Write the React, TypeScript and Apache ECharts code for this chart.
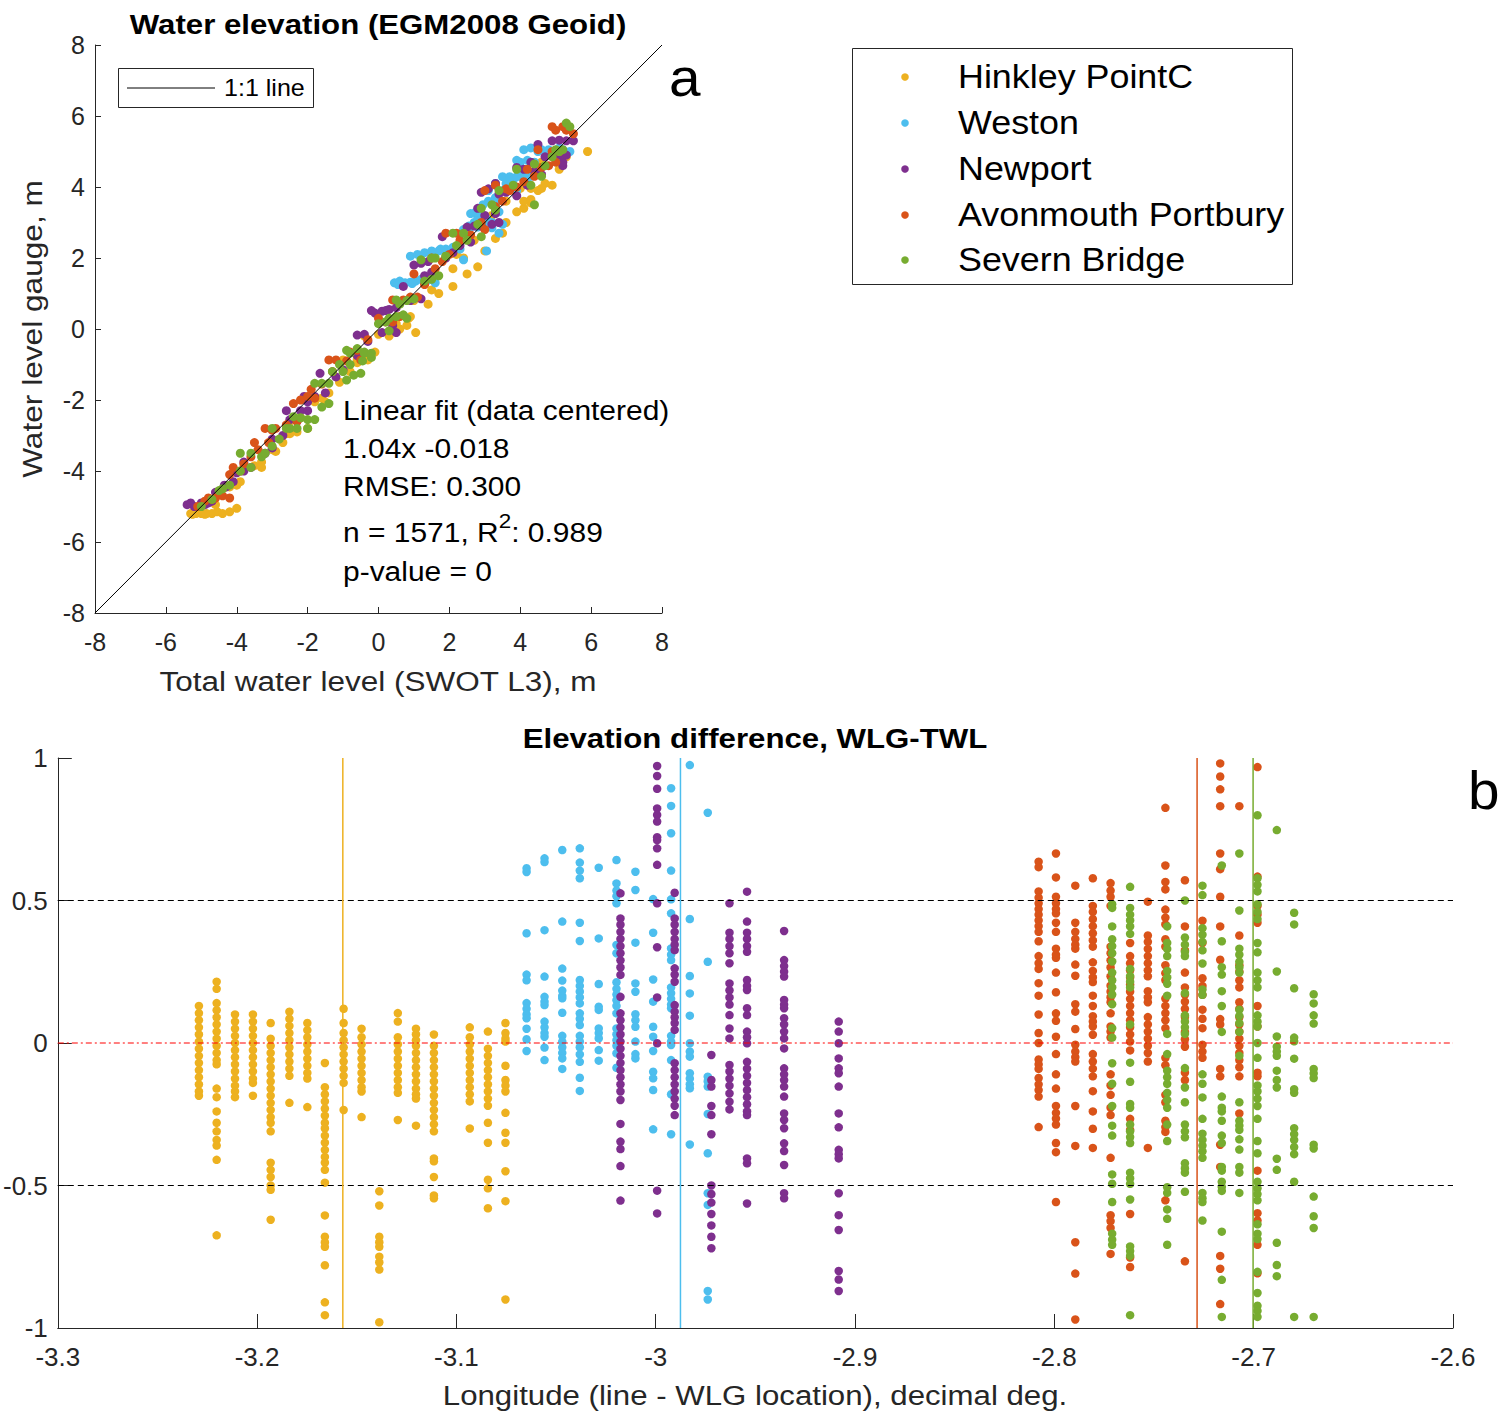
import React, { useEffect, useRef } from "react";
import * as echarts from "echarts";

const stationNames = ["Hinkley PointC", "Weston", "Newport", "Avonmouth Portbury", "Severn Bridge"];
const stationColors = ["#EDB120", "#4DBEEE", "#7E2F8E", "#D95319", "#77AC30"];

// Panel a: [Total water level (SWOT L3), Water level gauge]
const hinkleyA: number[][] = [
  [-5.3, -5.2], [-5.15, -5.2], [-5.0, -5.2], [-4.85, -5.2], [-4.7, -5.2], [-4.55, -5.15], [-4.0, -5.05], [-4.6, -4.95],
  [-4.3, -4.45], [-4.1, -4.35], [-3.9, -4.3], [-3.5, -3.85], [-3.3, -3.75], [-2.9, -3.45], [-2.7, -3.2], [-2.5, -2.95],
  [-2.3, -2.9], [-2.5, -2.6], [-2.2, -2.5], [-1.8, -2.05], [-1.6, -1.95], [-1.4, -1.8], [-1.1, -1.5], [-0.8, -1.2],
  [-0.6, -0.95], [-0.4, -0.75], [-0.1, -0.65], [0.3, -0.2], [0.6, 0.0], [0.8, 0.1], [1.05, -0.1], [0.9, 0.35],
  [1.4, 0.7], [1.7, 1.0], [2.1, 1.2], [2.5, 1.55], [2.8, 1.75], [3.0, 2.2], [3.3, 2.55], [3.5, 2.7], [3.6, 3.0],
  [3.9, 3.3], [4.1, 3.4], [4.3, 3.55], [4.5, 3.9], [4.7, 4.1], [4.9, 4.05], [5.1, 4.5], [5.3, 4.85], [5.9, 5.0],
  [4.6, 4.7], [3.2, 3.2], [2.2, 2.1],
  [-5.25, -5.22], [-4.9, -5.22], [-4.4, -5.2], [-4.2, -5.15], [-4.2, -4.45], [-4.0, -4.4], [-3.3, -3.9], [-3.0, -3.4],
  [-2.6, -2.95], [-2.0, -2.8], [-1.5, -2.05], [-1.0, -0.87], [-0.6, -0.85], [-0.3, -0.87], [-0.4, -0.2], [0.0, -0.15],
  [0.5, 0.15], [0.85, 0.3], [1.0, 0.8], [1.5, 1.1], [2.1, 1.7], [2.4, 2.0], [2.7, 2.5], [3.0, 2.9], [3.6, 3.6],
  [4.0, 3.96], [4.3, 3.96], [4.6, 3.96], [4.1, 3.6], [4.3, 3.65], [5.0, 4.9],
];
const westonA: number[][] = [
  [0.45, 1.3], [0.6, 1.35], [0.75, 1.3], [0.9, 1.32], [1.05, 1.35], [1.2, 1.4], [1.4, 1.38], [1.6, 1.3], [0.9, 2.05],
  [1.1, 2.1], [1.3, 2.15], [1.5, 2.2], [1.7, 2.2], [1.9, 2.25], [2.1, 2.3], [2.3, 2.25], [2.4, 1.95], [2.4, 2.8],
  [2.55, 2.9], [2.7, 3.0], [2.8, 3.15], [2.9, 3.25], [3.05, 3.1], [3.2, 3.0], [3.05, 2.2], [3.4, 2.7], [3.5, 2.95],
  [2.95, 3.5], [3.1, 3.6], [3.3, 3.7], [3.5, 3.9], [3.6, 4.1], [3.8, 4.2], [4.0, 4.3], [4.2, 4.25], [4.4, 4.35],
  [4.0, 4.7], [4.2, 4.75], [4.4, 4.7], [3.9, 4.75], [4.1, 5.05], [4.3, 5.1], [4.5, 5.0], [4.8, 5.05], [5.0, 5.0],
  [5.2, 5.05], [5.4, 5.0], [3.3, 4.1],
  [1.75, 2.25], [2.0, 2.2], [2.6, 2.88], [2.8, 2.87], [3.0, 2.9], [3.2, 2.85], [2.6, 3.25], [2.75, 3.3], [2.9, 3.25],
  [3.3, 3.5], [3.4, 3.3], [3.1, 3.9], [3.5, 4.29], [3.7, 4.29], [3.9, 4.29], [4.1, 4.29], [4.3, 4.3], [4.6, 5.05],
  [4.7, 5.0], [5.1, 5.1], [3.7, 3.95], [3.9, 3.9], [0.55, 1.25], [0.95, 1.28], [1.3, 1.3],
];
const newportA: number[][] = [
  [-5.4, -4.95], [-5.2, -5.0], [-4.9, -4.95], [-4.7, -4.85], [-4.6, -4.6], [-4.35, -4.4], [-4.1, -4.3], [-3.8, -3.75],
  [-3.6, -3.9], [-3.2, -3.5], [-3.0, -3.35], [-2.7, -3.0], [-2.5, -2.55], [-2.3, -2.6], [-2.0, -2.05], [-1.8, -1.9],
  [-1.5, -1.8], [-1.2, -1.35], [-1.0, -1.15], [-0.6, -0.75], [-0.3, -0.35], [0.1, -0.1], [0.4, 0.1], [-0.1, 0.45],
  [0.1, 0.5], [0.3, 0.55], [0.5, 0.6], [0.5, -0.1], [0.9, 0.8], [1.2, 0.85], [0.7, 1.2], [1.3, 1.5], [1.5, 1.6],
  [1.9, 2.0], [2.1, 2.15], [2.3, 2.35], [1.8, 2.6], [2.6, 2.45], [2.7, 2.9], [3.0, 3.2], [3.2, 2.95], [3.3, 3.25],
  [2.9, 3.85], [3.3, 4.1], [3.6, 3.85], [3.9, 3.75], [4.2, 4.05], [4.1, 4.5], [4.4, 4.45], [4.6, 4.35], [4.7, 4.85],
  [4.9, 4.9], [5.1, 4.9], [5.3, 4.9], [5.2, 4.6], [4.5, 5.2],
  [-5.3, -4.9], [-5.0, -4.9], [-4.8, -4.9], [-4.3, -4.45], [-4.0, -4.05], [-3.8, -4.0], [-3.0, -3.1], [-2.6, -2.3],
  [-2.2, -2.3], [-2.0, -2.3], [-2.1, -1.9], [-1.65, -1.25], [-0.6, -0.17], [-0.4, -0.15], [-0.2, 0.52], [0.2, 0.52],
  [1.0, 1.8], [1.2, 1.85], [1.4, 1.9], [2.5, 2.87], [2.9, 2.9], [3.4, 3.0], [2.8, 3.4], [3.1, 3.95], [3.4, 3.8],
  [3.9, 4.55], [4.3, 4.7], [4.9, 5.3], [5.1, 5.32], [5.3, 5.3], [5.5, 5.3], [5.2, 4.7],
];
const avonmouthA: number[][] = [
  [-5.1, -5.0], [-4.9, -4.85], [-4.7, -4.8], [-4.4, -4.7], [-4.2, -4.1], [-3.9, -4.0], [-3.6, -3.6], [-3.4, -3.4],
  [-3.1, -3.2], [-2.9, -2.8], [-2.6, -2.7], [-2.3, -2.6], [-2.4, -2.1], [-2.2, -2.0], [-1.9, -1.7], [-1.6, -1.55],
  [-1.3, -1.2], [-0.8, -0.65], [-0.6, -0.6], [-0.3, -0.3], [0.2, 0.2], [0.4, 0.2], [0.6, 0.35], [0.9, 0.9], [1.1, 0.9],
  [1.3, 1.25], [1.0, 1.55], [1.6, 1.7], [1.8, 1.9], [2.0, 2.1], [2.3, 2.5], [2.6, 2.65], [2.9, 3.0], [3.0, 2.8],
  [3.3, 3.45], [3.5, 3.6], [3.7, 3.9], [3.9, 4.0], [4.1, 4.15], [4.4, 4.3], [4.6, 4.55], [4.8, 4.6], [5.0, 4.7],
  [4.9, 5.0], [5.1, 5.0], [5.0, 5.6], [5.3, 5.6], [5.5, 5.5],
  [-4.8, -4.76], [-4.6, -4.76], [-4.2, -4.76], [-4.1, -3.9], [-3.8, -3.8], [-3.5, -3.2], [-3.2, -2.8], [-3.0, -2.85],
  [-2.0, -1.9], [-1.8, -1.95], [-1.4, -0.87], [-1.2, -0.87], [-0.9, -0.9], [-0.5, -0.87], [0.0, 0.3], [0.4, 0.82],
  [0.7, 0.82], [1.5, 2.0], [1.9, 2.7], [2.2, 2.7], [3.0, 3.9], [3.3, 4.05], [3.6, 3.95], [4.5, 5.05], [4.9, 5.7],
  [5.2, 5.7], [4.2, 4.5],
];
const severnA: number[][] = [
  [-5.0, -5.0], [-4.7, -4.8], [-4.4, -4.5], [-4.2, -4.4], [-3.9, -4.0], [-3.6, -3.9], [-3.3, -3.6], [-3.0, -3.3],
  [-2.8, -3.1], [-2.5, -2.8], [-2.2, -2.5], [-2.0, -2.55], [-1.8, -2.55], [-1.6, -2.2], [-1.4, -2.1], [-1.0, -1.2],
  [-0.8, -1.0], [-0.7, -1.3], [-0.5, -1.25], [-0.45, -0.9], [-0.4, -0.65], [-0.2, -0.8], [-0.9, -0.6], [-0.6, -0.55],
  [0.3, 0.3], [0.5, 0.35], [0.7, 0.4], [0.3, -0.05], [0.6, 0.7], [0.8, 0.8], [1.0, 0.85], [1.3, 1.35], [1.5, 1.4],
  [1.7, 1.5], [1.6, 2.0], [1.9, 2.05], [2.2, 2.35], [2.5, 2.5], [2.9, 2.6], [2.8, 2.95], [3.2, 3.5], [3.4, 3.9],
  [3.8, 4.05], [4.3, 4.05], [4.4, 3.5], [4.6, 4.3], [4.9, 4.85], [5.1, 5.0], [5.3, 5.8], [5.4, 5.7],
  [-4.5, -4.55], [-3.9, -3.5], [-3.6, -3.5], [-3.2, -3.5], [-3.0, -2.8], [-2.6, -2.8], [-2.3, -2.8], [-2.0, -2.8],
  [-2.4, -2.47], [-1.8, -1.53], [-1.6, -1.53], [-1.4, -1.53], [-1.3, -1.2], [-1.1, -1.0], [-0.9, -1.44], [-0.8, -0.68],
  [-0.4, -0.68], [-0.2, -0.68], [0.0, 0.15], [0.2, 0.2], [0.5, 0.82], [0.8, 0.3], [1.2, 1.95], [1.5, 2.0], [1.9, 2.05],
  [2.1, 2.7], [2.4, 2.7], [2.9, 3.4], [3.3, 3.35], [3.9, 4.5], [4.4, 4.65], [4.7, 4.6], [5.0, 5.05], [5.2, 5.05],
];

// Panel b: [longitude, list of WLG-TWL differences]
type Col = [number, number[]];
const hinkleyB: Col[] = [
  [-3.2292, [0.13, 0.105, 0.08, 0.055, 0.03, 0.005, -0.02, -0.045, -0.07, -0.095, -0.12, -0.145, -0.17, -0.185]],
  [-3.2203, [0.215, 0.19, 0.14, 0.115, 0.09, 0.065, 0.04, 0.015, -0.01, -0.035, -0.06, -0.075, -0.16, -0.19, -0.24, -0.28, -0.31, -0.34, -0.36, -0.41, -0.675]],
  [-3.2111, [0.1, 0.075, 0.05, 0.025, 0, -0.025, -0.05, -0.075, -0.1, -0.125, -0.15, -0.17, -0.19]],
  [-3.2021, [0.1, 0.075, 0.05, 0.025, 0, -0.025, -0.05, -0.075, -0.1, -0.125, -0.14, -0.185]],
  [-3.1932, [0.07, 0.015, -0.01, -0.035, -0.06, -0.085, -0.11, -0.135, -0.16, -0.185, -0.21, -0.235, -0.26, -0.28, -0.31, -0.42, -0.445, -0.47, -0.5, -0.515, -0.62]],
  [-3.1838, [0.11, 0.085, 0.06, 0.035, 0.01, -0.015, -0.04, -0.065, -0.09, -0.115, -0.21]],
  [-3.1748, [0.07, 0.045, 0.02, -0.005, -0.03, -0.055, -0.08, -0.105, -0.125, -0.225]],
  [-3.166, [-0.07, -0.155, -0.18, -0.205, -0.23, -0.255, -0.28, -0.3, -0.325, -0.35, -0.375, -0.4, -0.42, -0.445, -0.49, -0.605, -0.68, -0.7, -0.715, -0.78, -0.91, -0.955]],
  [-3.1566, [0.12, 0.07, 0.035, 0.01, -0.015, -0.04, -0.065, -0.09, -0.115, -0.14, -0.235]],
  [-3.1476, [0.05, 0.02, -0.005, -0.03, -0.055, -0.08, -0.105, -0.13, -0.155, -0.17, -0.26]],
  [-3.1387, [-0.52, -0.57, -0.68, -0.7, -0.715, -0.75, -0.77, -0.795, -0.98]],
  [-3.1294, [0.105, 0.075, 0.02, -0.005, -0.03, -0.055, -0.08, -0.105, -0.13, -0.155, -0.175, -0.27]],
  [-3.1203, [0.05, 0.03, 0.01, -0.01, -0.035, -0.06, -0.085, -0.11, -0.135, -0.16, -0.18, -0.195, -0.29]],
  [-3.1113, [0.03, -0.01, -0.035, -0.06, -0.085, -0.11, -0.135, -0.16, -0.185, -0.21, -0.235, -0.26, -0.285, -0.31, -0.405, -0.415, -0.47, -0.535, -0.545]],
  [-3.0933, [0.055, 0.02, -0.005, -0.03, -0.055, -0.08, -0.105, -0.13, -0.155, -0.18, -0.205, -0.3]],
  [-3.0842, [0.04, -0.02, -0.045, -0.07, -0.095, -0.12, -0.145, -0.17, -0.195, -0.22, -0.28, -0.35, -0.48, -0.51, -0.58]],
  [-3.0754, [0.07, 0.035, 0.015, 0.005, -0.08, -0.13, -0.15, -0.17, -0.245, -0.315, -0.35, -0.45, -0.555, -0.9]],
];
const westonB: Col[] = [
  [-3.0648, [0.613, 0.6, 0.385, 0.24, 0.22, 0.14, 0.12, 0.1, 0.087, 0.05, 0.013, -0.028]],
  [-3.0558, [0.648, 0.635, 0.396, 0.233, 0.162, 0.145, 0.133, 0.075, 0.055, 0.035, 0.022, -0.016, -0.06]],
  [-3.0469, [0.677, 0.426, 0.261, 0.219, 0.184, 0.165, 0.157, 0.106, 0.025, 0.005, -0.015, -0.035, -0.054, -0.091]],
  [-3.0381, [0.683, 0.633, 0.605, 0.578, 0.422, 0.358, 0.221, 0.2, 0.18, 0.16, 0.139, 0.104, 0.085, 0.063, 0.025, 0.005, -0.015, -0.04, -0.066, -0.122, -0.168]],
  [-3.0286, [0.615, 0.367, 0.207, 0.127, 0.116, 0.051, 0.035, 0.016, -0.025, -0.062]],
  [-3.0197, [0.642, 0.56, 0.535, 0.515, 0.49, 0.344, 0.315, 0.213, 0.19, 0.17, 0.15, 0.13, 0.104, 0.051, 0.03, 0.01, -0.01, -0.036, -0.087]],
  [-3.0102, [0.601, 0.537, 0.352, 0.209, 0.18, 0.101, 0.08, 0.057, 0.005, -0.039, -0.054]],
  [-3.0013, [0.505, 0.387, 0.223, 0.145, 0.057, 0.022, -0.028, -0.101, -0.124, -0.165, -0.303]],
  [-2.9923, [0.894, 0.832, 0.736, 0.605, 0.504, 0.455, 0.332, 0.31, 0.291, 0.195, 0.175, 0.155, 0.135, 0.122, 0.025, 0.005, -0.007, -0.06, -0.18, -0.32]],
  [-2.9829, [0.975, 0.435, 0.235, 0.174, 0.096, -0.001, -0.03, -0.048, -0.106, -0.125, -0.145, -0.159, -0.356]],
  [-2.9739, [0.808, 0.285, -0.118, -0.135, -0.153, -0.249, -0.387, -0.527, -0.568, -0.87, -0.9]],
];
const newportB: Col[] = [
  [-3.0177, [0.525, 0.437, 0.415, 0.39, 0.365, 0.34, 0.315, 0.29, 0.265, 0.239, 0.162, 0.104, 0.08, 0.055, 0.03, 0.005, -0.02, -0.045, -0.07, -0.095, -0.12, -0.145, -0.17, -0.2, -0.284, -0.346, -0.372, -0.432, -0.553]],
  [-2.9993, [0.972, 0.937, 0.892, 0.823, 0.8, 0.777, 0.722, 0.712, 0.683, 0.625, 0.49, 0.336, 0.16, -0.001, -0.518, -0.598]],
  [-2.9905, [0.527, 0.437, 0.415, 0.39, 0.365, 0.345, 0.326, 0.262, 0.24, 0.215, 0.133, 0.11, 0.09, 0.07, 0.046, -0.071, -0.095, -0.12, -0.145, -0.17, -0.195, -0.22, -0.253]],
  [-2.9721, [-0.042, -0.13, -0.153, -0.221, -0.253, -0.32, -0.5, -0.53, -0.56, -0.6, -0.64, -0.68, -0.72]],
  [-2.963, [0.49, 0.387, 0.365, 0.34, 0.315, 0.28, 0.209, 0.185, 0.16, 0.135, 0.098, 0.051, 0.016, -0.077, -0.1, -0.125, -0.15, -0.177, -0.206, -0.233]],
  [-2.9542, [0.531, 0.426, 0.387, 0.365, 0.34, 0.32, 0.221, 0.2, 0.186, 0.122, 0.098, 0.04, 0.02, -0.001, -0.066, -0.09, -0.115, -0.14, -0.165, -0.19, -0.215, -0.24, -0.253, -0.405, -0.422, -0.563]],
  [-2.9356, [0.393, 0.291, 0.27, 0.25, 0.233, 0.151, 0.135, 0.122, 0.087, 0.065, 0.04, 0.016, -0.019, -0.089, -0.11, -0.13, -0.153, -0.188, -0.247, -0.27, -0.299, -0.352, -0.379, -0.428, -0.527, -0.545]],
  [-2.9082, [0.075, 0.04, -0.001, -0.054, -0.089, -0.106, -0.153, -0.247, -0.296, -0.375, -0.39, -0.405, -0.527, -0.604, -0.656, -0.8, -0.83, -0.87]],
];
const avonmouthB: Col[] = [
  [-2.8079, [0.636, 0.617, 0.532, 0.51, 0.49, 0.47, 0.45, 0.43, 0.41, 0.39, 0.357, 0.305, 0.28, 0.26, 0.21, 0.166, 0.1, 0.035, 0, -0.058, -0.075, -0.091, -0.123, -0.145, -0.165, -0.188, -0.295]],
  [-2.7992, [0.665, 0.581, 0.513, 0.49, 0.47, 0.455, 0.422, 0.39, 0.331, 0.31, 0.299, 0.247, 0.178, 0.104, 0.078, 0.022, -0.039, -0.11, -0.16, -0.221, -0.245, -0.265, -0.286, -0.351, -0.383, -0.558]],
  [-2.7895, [0.552, 0.422, 0.39, 0.365, 0.345, 0.331, 0.275, 0.236, 0.136, 0.11, 0.049, -0.006, -0.03, -0.05, -0.065, -0.221, -0.361, -0.699, -0.809, -0.97]],
  [-2.7807, [0.578, 0.481, 0.46, 0.435, 0.41, 0.385, 0.36, 0.338, 0.283, 0.253, 0.23, 0.214, 0.166, 0.13, 0.094, 0.075, 0.058, 0.029, -0.039, -0.065, -0.09, -0.117, -0.169, -0.24, -0.301, -0.368]],
  [-2.7718, [0.561, 0.535, 0.513, 0.481, 0.338, 0.315, 0.29, 0.265, 0.234, 0.201, 0.18, 0.16, 0.143, 0.104, 0.058, 0.04, 0.019, -0.11, -0.149, -0.182, -0.227, -0.253, -0.403, -0.604, -0.625, -0.649, -0.74]],
  [-2.762, [0.351, 0.305, 0.28, 0.255, 0.23, 0.205, 0.18, 0.155, 0.13, 0.105, 0.08, 0.055, 0.03, 0.005, -0.026, -0.266, -0.305, -0.6, -0.753, -0.786]],
  [-2.7531, [0.496, 0.377, 0.355, 0.33, 0.305, 0.28, 0.255, 0.234, 0.182, 0.16, 0.143, 0.091, 0.065, 0.04, 0.015, -0.01, -0.035, -0.065, -0.368]],
  [-2.7443, [0.825, 0.623, 0.565, 0.539, 0.468, 0.44, 0.416, 0.364, 0.338, 0.273, 0.245, 0.221, 0.156, 0.13, 0.105, 0.08, 0.052, -0.052, -0.078, -0.182, -0.208, -0.273, -0.295, -0.312, -0.552]],
  [-2.7345, [0.571, 0.409, 0.325, 0.247, 0.195, 0.17, 0.145, 0.12, 0.091, 0.039, 0.013, -0.013, -0.104, -0.13, -0.766]],
  [-2.7257, [0.429, 0.351, 0.227, 0.2, 0.169, 0.117, 0.085, 0.052, -0.006, -0.03, -0.052]],
  [-2.7168, [0.981, 0.935, 0.89, 0.831, 0.665, 0.61, 0.513, 0.409, 0.292, 0.084, 0.065, -0.091, -0.117, -0.357, -0.435, -0.747, -0.792, -0.916]],
  [-2.7072, [0.831, 0.377, 0.273, 0.25, 0.22, 0.195, 0.143, 0.12, 0.091, 0.065, 0.04, 0.015, -0.01, -0.035, -0.06, -0.085, -0.117, -0.247]],
  [-2.6981, [0.968, 0.584, 0.481, 0.45, 0.422, 0.13, 0.058, -0.104, -0.117, -0.448, -0.597, -0.623, -0.708, -0.808]],
];
const severnB: Col[] = [
  [-2.771, [0.487, 0.474, 0.409, 0.364, 0.34, 0.315, 0.286, 0.247, 0.22, 0.195, 0.17, 0.136, 0.052, 0.019, -0.071, -0.143, -0.221, -0.29, -0.325, -0.461, -0.494, -0.558, -0.669, -0.69, -0.708]],
  [-2.762, [0.548, 0.474, 0.45, 0.43, 0.409, 0.383, 0.26, 0.235, 0.215, 0.195, 0.065, -0.069, -0.136, -0.214, -0.227, -0.286, -0.31, -0.33, -0.351, -0.455, -0.475, -0.494, -0.549, -0.714, -0.73, -0.747, -0.955]],
  [-2.7434, [0.409, 0.351, 0.33, 0.305, 0.253, 0.23, 0.208, 0.166, 0.032, -0.039, -0.097, -0.12, -0.143, -0.175, -0.2, -0.227, -0.286, -0.344, -0.506, -0.526, -0.584, -0.617, -0.708]],
  [-2.7345, [0.5, 0.37, 0.345, 0.32, 0.305, 0.175, 0.097, 0.075, 0.055, 0.032, -0.088, -0.156, -0.208, -0.286, -0.31, -0.331, -0.422, -0.44, -0.455, -0.522]],
  [-2.7257, [0.552, 0.519, 0.403, 0.38, 0.355, 0.325, 0.279, 0.188, 0.169, -0.11, -0.143, -0.191, -0.266, -0.318, -0.34, -0.36, -0.38, -0.403, -0.526, -0.545, -0.558, -0.623]],
  [-2.716, [0.623, 0.357, 0.266, 0.24, 0.182, 0.13, 0.039, -0.188, -0.227, -0.24, -0.273, -0.325, -0.351, -0.435, -0.448, -0.487, -0.505, -0.519, -0.662, -0.831, -0.961]],
  [-2.7072, [0.665, 0.465, 0.331, 0.31, 0.285, 0.265, 0.247, 0.117, 0.095, 0.07, 0.039, -0.045, -0.208, -0.273, -0.29, -0.305, -0.338, -0.374, -0.435, -0.455, -0.526]],
  [-2.6981, [0.799, 0.578, 0.555, 0.532, 0.487, 0.46, 0.435, 0.351, 0.318, 0.247, 0.22, 0.195, 0.097, 0.075, 0.058, 0, -0.052, -0.149, -0.17, -0.195, -0.221, -0.266, -0.344, -0.387, -0.487, -0.51, -0.53, -0.552, -0.636, -0.669, -0.688, -0.803, -0.877, -0.922, -0.94, -0.961]],
  [-2.6884, [0.747, 0.251, 0.023, -0.013, -0.03, -0.045, -0.097, -0.13, -0.156, -0.406, -0.445, -0.701, -0.779, -0.818]],
  [-2.6797, [0.457, 0.416, 0.192, 0.019, 0.006, -0.055, -0.162, -0.175, -0.299, -0.32, -0.34, -0.365, -0.39, -0.487, -0.961]],
  [-2.6699, [0.171, 0.139, 0.097, 0.068, -0.091, -0.107, -0.123, -0.357, -0.37, -0.539, -0.608, -0.649, -0.961]],
];

// gauge longitudes (vertical lines), by station index
const gaugeLon: [number, number][] = [[0, -3.157], [1, -2.9876], [3, -2.7284], [4, -2.7003]];
const oneToOne = [[-8, -8], [8, 8]];
const aTicks = { min: -8, max: 8, interval: 2 };
const bX = { min: -3.3, max: -2.6, interval: 0.1 };
const bY = { min: -1, max: 1, interval: 0.5 };
const fitLines = ["Linear fit (data centered)", "1.04x -0.018", "RMSE: 0.300"];
const fitStats = { n: "1571", r2: "0.989", p: "0" };

const FONT = "Liberation Sans, Arial, Helvetica, sans-serif";
const AXC = "#262626";

function flatten(cols: Col[]): number[][] {
  const out: number[][] = [];
  cols.forEach(([lon, vals]) => vals.forEach((v) => out.push([lon, v])));
  return out;
}

export default function App() {
  const ref = useRef<HTMLDivElement>(null);
  useEffect(() => {
    document.body.style.margin = "0";
    const chart = echarts.init(ref.current!, null, { renderer: "svg" });
    const panelA = [hinkleyA, westonA, newportA, avonmouthA, severnA];
    const panelB = [hinkleyB, westonB, newportB, avonmouthB, severnB];
    const axisCommon = {
      axisLine: { show: true, onZero: false, lineStyle: { color: AXC, width: 1 } },
      splitLine: { show: false },
    };
    const series: any[] = [];
    panelA.forEach((d, i) =>
      series.push({
        type: "scatter", name: stationNames[i], xAxisIndex: 0, yAxisIndex: 0, data: d,
        symbol: "circle", symbolSize: 9, itemStyle: { color: stationColors[i], opacity: 1 },
      })
    );
    series.push({
      type: "line", xAxisIndex: 0, yAxisIndex: 0, data: oneToOne, symbol: "none",
      lineStyle: { color: "#000", width: 1 }, z: 3,
    });
    panelB.forEach((d, i) =>
      series.push({
        type: "scatter", name: stationNames[i], xAxisIndex: 1, yAxisIndex: 1, data: flatten(d),
        symbol: "circle", symbolSize: 8.5, itemStyle: { color: stationColors[i], opacity: 1 },
      })
    );
    const hl = (y: number, color: string, type: any) => ({
      type: "line", xAxisIndex: 1, yAxisIndex: 1, data: [[bX.min, y], [bX.max, y]], symbol: "none",
      lineStyle: { color, width: 1, type }, z: 4,
    });
    series.push(hl(0.5, "#000", [6, 4]));
    series.push(hl(-0.5, "#000", [6, 4]));
    series.push(hl(0, "#ff0000", [6, 3, 2, 3]));
    gaugeLon.forEach(([si, lon]) =>
      series.push({
        type: "line", xAxisIndex: 1, yAxisIndex: 1, data: [[lon, bY.min], [lon, bY.max]], symbol: "none",
        lineStyle: { color: stationColors[si], width: 1.5 }, z: 4,
      })
    );

    const txt = (t: string, x: number, y: number, size: number, sx: number, opts: any = {}) => ({
      type: "text", x, y, scaleX: sx, rotation: opts.rotation || 0, z: opts.z || 10,
      style: {
        text: t, font: `${opts.bold ? "bold " : ""}${size}px ${FONT}`, fill: opts.fill || "#000",
        textAlign: opts.align || "left", textVerticalAlign: "middle",
      },
    });
    const graphics: any[] = [];
    // titles
    graphics.push(txt("Water elevation (EGM2008 Geoid)", 378, 24, 28, 1.115, { bold: true, align: "center" }));
    graphics.push(txt("Elevation difference, WLG-TWL", 755, 738, 28, 1.115, { bold: true, align: "center" }));
    // axis titles
    graphics.push(txt("Total water level (SWOT L3), m", 378, 681, 28, 1.125, { align: "center", fill: AXC }));
    graphics.push(txt("Longitude (line - WLG location), decimal deg.", 755, 1395, 28, 1.115, { align: "center", fill: AXC }));
    graphics.push(txt("Water level gauge, m", 32, 329, 28, 1.13, { align: "center", fill: AXC, rotation: Math.PI / 2 }));
    // 1:1 line legend
    graphics.push({ type: "rect", shape: { x: 118.5, y: 68.5, width: 195, height: 39 }, style: { fill: "#fff", stroke: AXC, lineWidth: 1 }, z: 10 });
    graphics.push({ type: "line", shape: { x1: 127, y1: 88, x2: 215, y2: 88 }, style: { stroke: "#000", lineWidth: 1 }, z: 11 });
    graphics.push(txt("1:1 line", 224, 88, 23, 1.09, { z: 11 }));
    // panel labels
    graphics.push(txt("a", 669, 77, 54, 1.05));
    graphics.push(txt("b", 1468, 790, 54, 1.05));
    // fit text
    const fitY = [410, 448, 486];
    fitLines.forEach((t, i) => graphics.push(txt(t, 343, fitY[i], 28, 1.07)));
    graphics.push({
      type: "text", x: 343, y: 528, scaleX: 1.07, z: 10,
      style: {
        text: `{a|n = ${fitStats.n}, R}{b|2}{a|: ${fitStats.r2}}`,
        textVerticalAlign: "middle", fill: "#000",
        rich: {
          a: { fontSize: 28, fontFamily: FONT, fill: "#000", lineHeight: 36, verticalAlign: "bottom" },
          b: { fontSize: 21, fontFamily: FONT, fill: "#000", lineHeight: 36, verticalAlign: "top" },
        },
      },
    });
    graphics.push(txt(`p-value = ${fitStats.p}`, 343, 571, 28, 1.07));
    // station legend
    graphics.push({ type: "rect", shape: { x: 852.5, y: 48.5, width: 440, height: 236 }, style: { fill: "#fff", stroke: AXC, lineWidth: 1 } });
    const legY = [77, 123, 169, 215, 260];
    stationNames.forEach((n, i) => {
      graphics.push({ type: "circle", shape: { cx: 905, cy: legY[i], r: 3.8 }, style: { fill: stationColors[i] } });
      graphics.push(txt(n, 958, legY[i], 33, 1.087));
    });

    const fmt = (v: number) => String(parseFloat(v.toFixed(2)));
    chart.setOption({
      animation: false,
      backgroundColor: "#fff",
      grid: [
        { left: 95, top: 45, width: 567, height: 568, containLabel: false },
        { left: 57, top: 758, width: 1396, height: 570, containLabel: false },
      ],
      xAxis: [
        {
          ...axisCommon, type: "value", gridIndex: 0, ...aTicks,
          axisTick: { show: true, inside: true, length: 6, lineStyle: { color: AXC } },
          axisLabel: { color: AXC, fontFamily: FONT, fontSize: 25, margin: 16, formatter: fmt },
        },
        {
          ...axisCommon, type: "value", gridIndex: 1, ...bX,
          axisTick: { show: true, inside: true, length: 14, lineStyle: { color: AXC } },
          axisLabel: { color: AXC, fontFamily: FONT, fontSize: 26, margin: 16, formatter: fmt },
        },
      ],
      yAxis: [
        {
          ...axisCommon, type: "value", gridIndex: 0, ...aTicks,
          axisTick: { show: true, inside: true, length: 6, lineStyle: { color: AXC } },
          axisLabel: { color: AXC, fontFamily: FONT, fontSize: 25, margin: 10, formatter: fmt },
        },
        {
          ...axisCommon, type: "value", gridIndex: 1, ...bY,
          axisTick: { show: true, inside: true, length: 14, lineStyle: { color: AXC } },
          axisLabel: { color: AXC, fontFamily: FONT, fontSize: 26, margin: 10, formatter: fmt },
        },
      ],
      series,
      graphic: graphics,
    });
    return () => chart.dispose();
  }, []);
  return <div ref={ref} style={{ width: 1504, height: 1411 }} />;
}
